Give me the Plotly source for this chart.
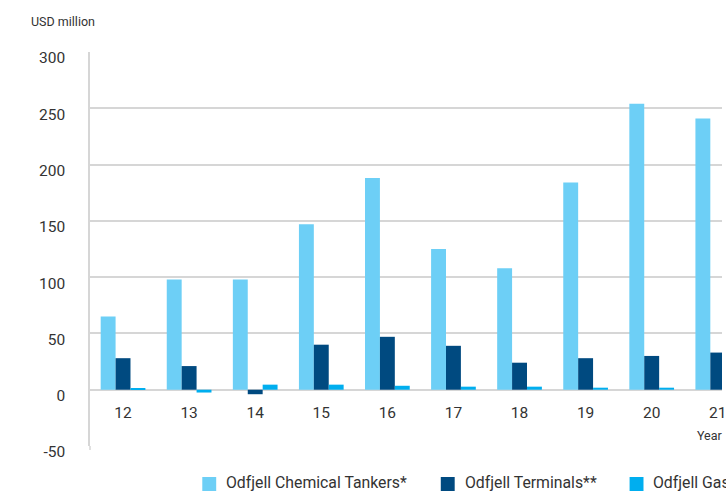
import plotly.graph_objects as go

# Operating results by segment, USD million
years = ["12", "13", "14", "15", "16", "17", "18", "19", "20", "21"]
chemical_tankers = [65, 98, 98, 147, 188, 125, 108, 184, 254, 241]
terminals = [28, 21, -4, 40, 47, 39, 24, 28, 30, 33]
gas = [1, -2.5, 4.5, 4.5, 3.5, 2.7, 2.7, 1.8, 1.8, 2]

y_ticks = [-50, 0, 50, 100, 150, 200, 250, 300]
y_tick_text = ["-50", "0", "50", "100", "150", "200", "250", "300"]

series_names = ["Odfjell Chemical Tankers*", "Odfjell Terminals**", "Odfjell Gas***"]
series_values = [chemical_tankers, terminals, gas]
series_colors = ["#6dcff6", "#004a80", "#00aeef"]

W, H = 726, 493
ML, MR, MT, MB = 90, 0, 52, 47
plot_w, plot_h = W - ML - MR, H - MT - MB
cat_px = 66.5  # pixel width of one category slot

fig = go.Figure()
for name, vals, col in zip(series_names, series_values, series_colors):
    fig.add_trace(go.Bar(x=years, y=vals, name=name, marker_color=col,
                         marker_line_width=0, showlegend=False))

TXT = "#333333"
GRID = "#d6d6d6"


def px_x(px):
    return (px - ML) / plot_w


def px_y(py):
    return (H - MB - py) / plot_h


annotations = [
    dict(text="USD million", x=px_x(29), y=px_y(21), xref="paper", yref="paper",
         xanchor="left", yanchor="middle", showarrow=False,
         font=dict(size=12.5, color=TXT)),
    dict(text="Year", x=px_x(699), y=px_y(435), xref="paper", yref="paper",
         xanchor="left", yanchor="middle", showarrow=False,
         font=dict(size=12.5, color=TXT)),
]

# left axis line runs a little below the lowest gridline
shapes = [dict(type="line", xref="paper", yref="paper", x0=0, x1=0,
               y0=px_y(450), y1=0, line=dict(color=GRID, width=1.5))]

# Legend row along the bottom edge
legend_square_x = [203, 443, 633]
for name, col, sx in zip(series_names, series_colors, legend_square_x):
    shapes.append(dict(type="rect", xref="paper", yref="paper",
                       x0=px_x(sx), x1=px_x(sx + 14), y0=px_y(491), y1=px_y(477),
                       fillcolor=col, line_width=0))
    annotations.append(dict(text=name, x=px_x(sx + 23), y=px_y(493),
                            xref="paper", yref="paper", xanchor="left",
                            yanchor="bottom", borderpad=0, showarrow=False,
                            font=dict(size=15.8, color=TXT)))

fig.update_layout(
    width=W, height=H,
    margin=dict(l=ML, r=MR, t=MT, b=MB, pad=0),
    paper_bgcolor="white", plot_bgcolor="white",
    font=dict(family="Roboto, 'Open Sans', sans-serif", color=TXT),
    barmode="group", bargap=1 - 45 / cat_px, bargroupgap=0,
    annotations=annotations, shapes=shapes,
    xaxis=dict(type="category", range=[-0.5, -0.5 + plot_w / cat_px],
               showgrid=False, showline=False, zeroline=False,
               anchor="free", position=50 / 350,
               ticks="", ticklabelstandoff=12,
               tickfont=dict(size=15.5, color=TXT)),
    yaxis=dict(range=[-50, 300], tickvals=y_ticks, ticktext=y_tick_text,
               showgrid=True, gridcolor=GRID, gridwidth=1.5,
               zeroline=True, zerolinecolor=GRID, zerolinewidth=1.5,
               showline=True, linecolor=GRID, linewidth=1.5,
               ticks="", ticklabelstandoff=20, ticklabelshift=6,
               tickfont=dict(size=15.5, color=TXT)),
)

fig.write_html("out.html")
